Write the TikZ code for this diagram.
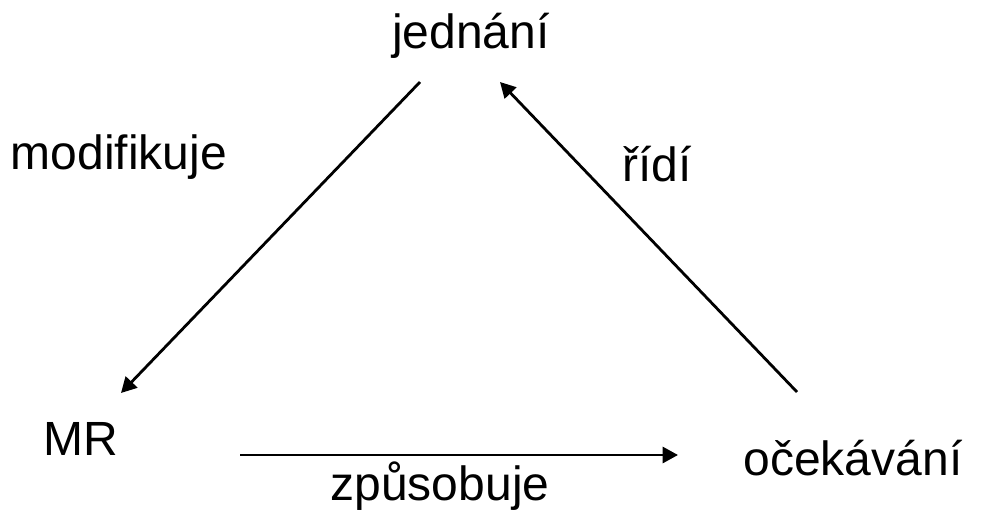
\documentclass[tikz,border=0pt]{standalone}
\usepackage{fontspec}
\setmainfont{Liberation Sans}
\usetikzlibrary{arrows.meta}
\begin{document}
\begin{tikzpicture}[x=0.75pt,y=-0.75pt,
  lbl/.style={inner sep=0pt,anchor=base,font=\fontsize{36}{43}\selectfont},
  conn/.style={line width=2.1pt,-{Triangle[length=11.5pt,width=12pt]}}]
\useasboundingbox (0,0) rectangle (993,514);
\node[lbl] (jed) at (471,48) {jednání};
\node[lbl] (mod) at (119,169) {modifikuje};
\node[lbl] (rid) at (657,181) {řídí};
\node[lbl] (mr) at (81,455) {MR};
\node[lbl] (oce) at (853,475) {očekávání};
\node[lbl] (zpu) at (440,500) {způsobuje};
\coordinate (jedL) at (420,82);
\coordinate (jedR) at (500,82);
\coordinate (mrT) at (121,393);
\coordinate (mrR) at (240,455);
\coordinate (oceT) at (797,392);
\coordinate (oceL) at (678,455);
\draw[conn] (jedL) -- (mrT);
\draw[conn] (oceT) -- (jedR);
\draw[conn] (mrR) -- (oceL);
\end{tikzpicture}
\end{document}
